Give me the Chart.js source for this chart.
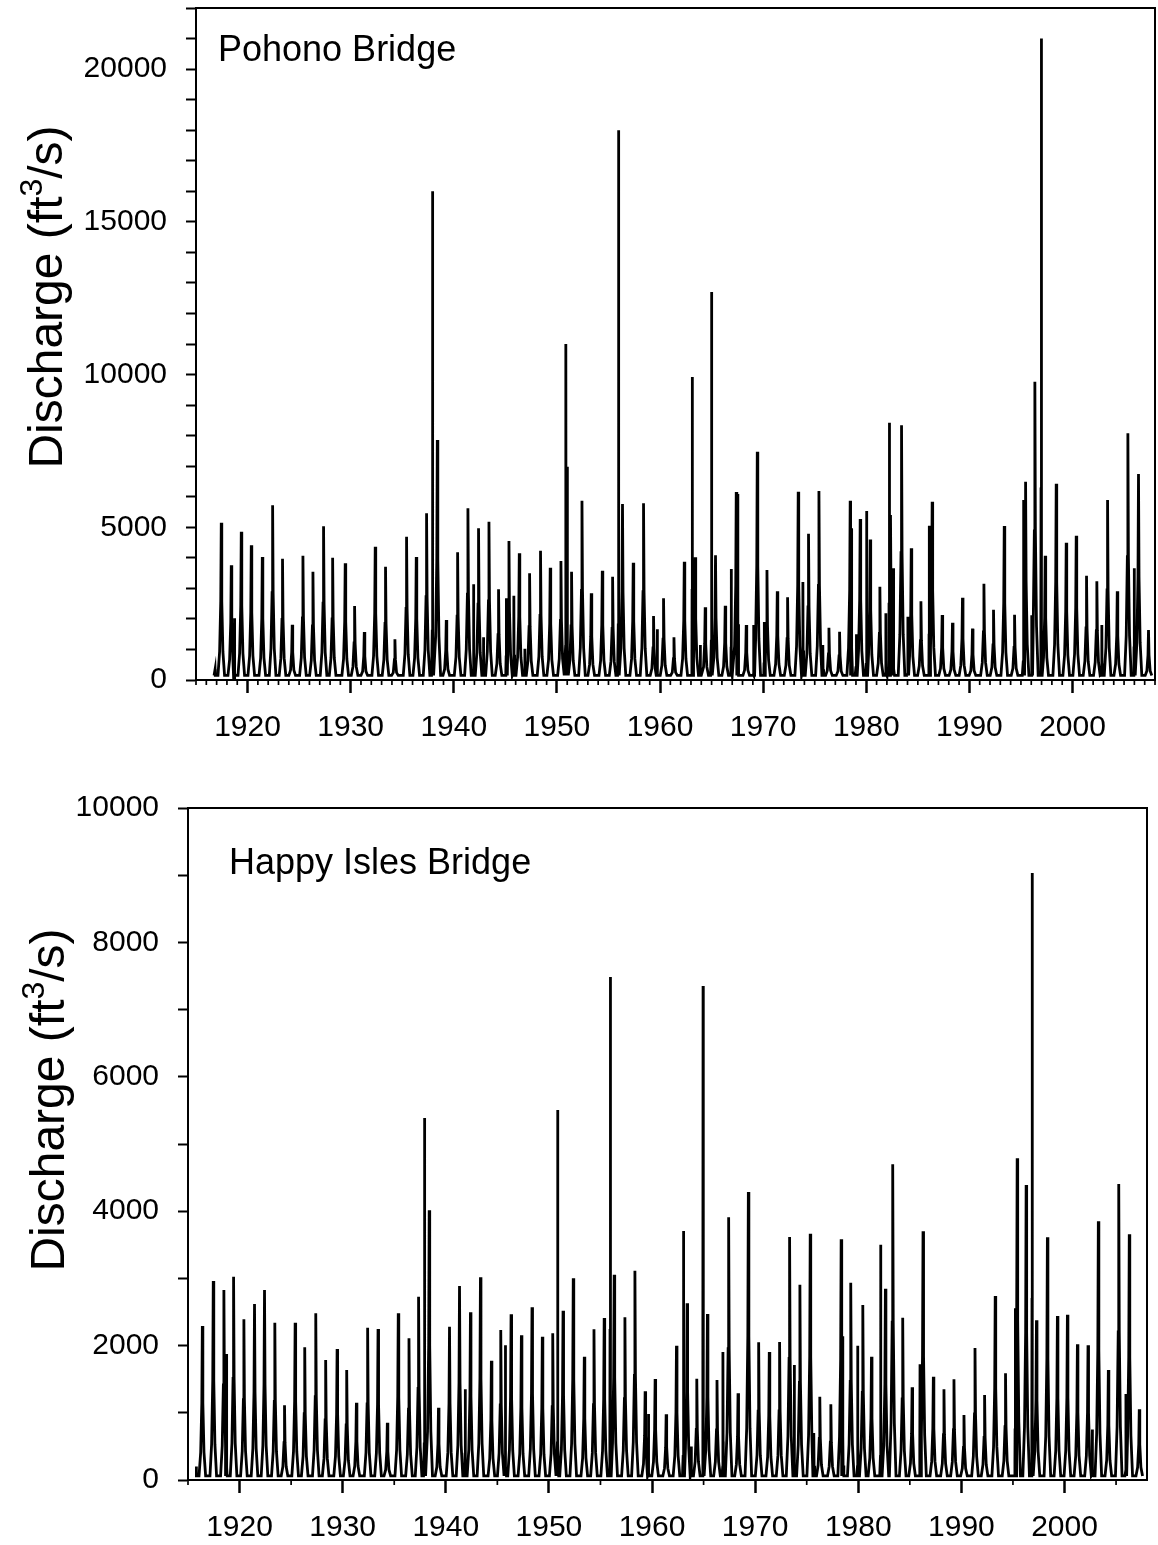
<!DOCTYPE html>
<html>
<head>
<meta charset="utf-8">
<title>Merced River discharge</title>
<script src="https://cdn.jsdelivr.net/npm/chart.js@4.4.1/dist/chart.umd.min.js"></script>
<style>
  body { margin: 0; background: #fff; }
  .panel { position: absolute; left: 0; width: 1158px; }
</style>
</head>
<body>
<div class="panel" style="top:0;height:760px"><canvas id="pohono"></canvas></div>
<div class="panel" style="top:760px;height:785px"><canvas id="happy"></canvas></div>

<script>
Chart.defaults.font.family = "'Liberation Sans', Arial, sans-serif";
Chart.defaults.color = '#000';

// Pohono Bridge - spring snowmelt peak of each year (decimal year, ft3/s)
var pohonoMeltDates = [1917.45, 1918.42, 1919.39, 1920.36, 1921.43, 1922.43, 1923.39, 1924.33, 1925.37, 1926.34,
  1927.37, 1928.25, 1929.47, 1930.38, 1931.32, 1932.38, 1933.38, 1934.29, 1935.42, 1936.36,
  1937.36, 1938.40, 1939.27, 1940.37, 1941.37, 1942.40, 1943.41, 1944.34, 1945.35, 1946.35,
  1947.35, 1948.41, 1949.35, 1950.39, 1951.42, 1952.43, 1953.33, 1954.40, 1955.40, 1956.36,
  1957.40, 1958.40, 1959.37, 1960.34, 1961.35, 1962.35, 1963.41, 1964.38, 1965.38, 1966.32,
  1967.39, 1968.36, 1969.43, 1970.37, 1971.37, 1972.37, 1973.40, 1974.40, 1975.41, 1976.38,
  1977.41, 1978.44, 1979.41, 1980.38, 1981.32, 1982.35, 1983.42, 1984.36, 1985.30, 1986.39,
  1987.36, 1988.36, 1989.33, 1990.30, 1991.41, 1992.34, 1993.38, 1994.38, 1995.45, 1996.35,
  1997.35, 1998.42, 1999.39, 2000.36, 2001.36, 2002.36, 2003.40, 2004.34, 2005.37, 2006.40,
  2007.37];
var pohonoMeltPeaks = [5150, 3755, 4856, 4410, 4027, 5718, 3972, 1812, 4070, 3547,
  5030, 4005, 3820, 2422, 1571, 4365, 3710, 1332, 4692, 4027,
  5457, 7857, 1964, 4180, 5620, 4966, 5184, 2968, 4551, 4147,
  3492, 4234, 3678, 3896, 3547, 5872, 2837, 3580, 3383, 5762,
  3842, 5784, 2095, 2674, 1397, 3874, 4016, 2379, 4081, 2434,
  6155, 1800, 7475, 3600, 2903, 2706, 6166, 4790, 6188, 1713,
  1582, 5872, 5270, 4600, 3055, 5400, 8336, 4310, 2576, 5839,
  2128, 1877, 2696, 1681, 3153, 2303, 5042, 2139, 6494, 9767,
  4070, 6428, 4496, 4725, 3416, 3230, 5893, 2903, 8075, 6744,
  1637];
// Pohono Bridge - rain floods and other short peaks
var pohonoFloodDates = [1916.85, 1918.74, 1937.94, 1941.92, 1942.88, 1945.09, 1945.83, 1946.90, 1950.87, 1951.00,
  1955.98, 1959.73, 1963.12, 1963.90, 1965.00, 1966.90, 1967.55, 1969.07, 1970.10, 1973.86,
  1975.80, 1978.57, 1979.02, 1980.03, 1981.90, 1982.22, 1982.64, 1984.04, 1986.10, 1995.25,
  1996.06, 1996.96, 2002.85, 2005.98];
var pohonoFloodPeaks = [350, 2020, 16000, 3131, 1397, 2674, 2761, 1026, 11000, 6985,
  18000, 1658, 9920, 1146, 12700, 3634, 6090, 1800, 1900, 3208,
  1146, 4966, 1495, 5533, 2183, 8423, 3656, 2074, 5053, 5893,
  2117, 21000, 1800, 3656];

// Happy Isles Bridge - spring snowmelt peak of each year
var happyMeltDates = [1916.39, 1917.45, 1918.48, 1919.42, 1920.42, 1921.45, 1922.42, 1923.42, 1924.36, 1925.39,
  1926.32, 1927.39, 1928.35, 1929.46, 1930.39, 1931.33, 1932.42, 1933.43, 1934.33, 1935.39,
  1936.43, 1937.36, 1938.39, 1939.29, 1940.36, 1941.33, 1942.39, 1943.36, 1944.42, 1945.33,
  1946.33, 1947.33, 1948.36, 1949.36, 1950.37, 1951.37, 1952.36, 1953.43, 1954.37, 1955.36,
  1956.33, 1957.37, 1958.34, 1959.33, 1960.30, 1961.37, 1962.37, 1963.40, 1964.34, 1965.37,
  1966.30, 1967.43, 1968.34, 1969.34, 1970.34, 1971.37, 1972.37, 1973.34, 1974.34, 1975.34,
  1976.27, 1977.34, 1978.34, 1979.27, 1980.44, 1981.28, 1982.63, 1983.34, 1984.31, 1985.22,
  1986.28, 1987.28, 1988.31, 1989.28, 1990.25, 1991.32, 1992.25, 1993.28, 1994.28, 1995.41,
  1996.28, 1997.28, 1998.34, 1999.31, 2000.28, 2001.25, 2002.28, 2003.28, 2004.25, 2005.26,
  2006.28, 2007.25];
var happyMeltPeaks = [2292, 2961, 2827, 3026, 2391, 2619, 2827, 2341, 1111, 2341,
  1974, 2480, 1786, 1949, 1637, 1150, 2267, 2247, 853, 2480,
  2108, 2728, 4013, 1076, 2282, 2887, 2495, 3016, 1776, 2232,
  2465, 2153, 2570, 2133, 2183, 2520, 3001, 1835, 2242, 2411,
  3055, 2421, 3115, 1320, 1503, 977, 1999, 2629, 1508, 2470,
  1488, 3909, 1290, 4286, 2049, 1905, 2054, 3616, 2907, 3665,
  1240, 1126, 3581, 2936, 2604, 1835, 2847, 4697, 2416, 1379,
  3700, 1538, 1349, 1498, 967, 1964, 1265, 2738, 1587, 4787,
  4390, 2376, 3611, 2440, 2460, 2019, 2004, 3849, 1637, 4405,
  3656, 1052];
// Happy Isles Bridge - rain floods and other short peaks
var happyFloodDates = [1915.80, 1918.74, 1937.94, 1941.88, 1945.78, 1950.85, 1955.94, 1959.66, 1963.05, 1963.80,
  1964.95, 1966.88, 1973.79, 1975.70, 1978.50, 1979.95, 1982.18, 1985.99, 1995.22, 1996.86,
  2002.70, 2005.96];
var happyFloodPeaks = [200, 1875, 5387, 1349, 2004, 5506, 7485, 982, 3705, 500,
  7351, 1905, 1711, 700, 2140, 1999, 3502, 1721, 2555, 9033,
  750, 1280];

// axis labels
var yearTicks = [1920, 1930, 1940, 1950, 1960, 1970, 1980, 1990, 2000];
var pohonoYLabels = [0, 5000, 10000, 15000, 20000];
var happyYLabels = [0, 2000, 4000, 6000, 8000, 10000];

// shape of one event: [base half width, low half width, low level, mid half width, mid level]
// widths in years, levels as a part of the peak
var meltShape = [0.32, 0.16, 0.18, 0.05, 0.5];
var floodShape = [0.1, 0.03, 0.1, 0.012, 0.3];

// turn the peak lists into a hydrograph line
function hydrograph(meltDates, meltPeaks, floodDates, floodPeaks, base) {
  var pts = [];
  function addEvent(t, v, s) {
    var low = Math.max(base, v * s[2]);
    var mid = Math.max(base, v * s[4]);
    pts.push({x: t - s[0], y: base});
    pts.push({x: t - s[1], y: low});
    pts.push({x: t - s[3], y: mid});
    pts.push({x: t, y: v});
    pts.push({x: t + s[3], y: mid});
    pts.push({x: t + s[1], y: low});
    pts.push({x: t + s[0], y: base});
  }
  for (var i = 0; i < meltDates.length; i++) addEvent(meltDates[i], meltPeaks[i], meltShape);
  for (var j = 0; j < floodDates.length; j++) addEvent(floodDates[j], floodPeaks[j], floodShape);
  pts.sort(function (a, b) { return a.x - b.x; });
  return pts;
}

// frame, minor year ticks, station name and y axis title
var panelDecor = {
  id: 'panelDecor',
  afterDraw: function (chart, args, o) {
    var ctx = chart.ctx, a = chart.chartArea, xs = chart.scales.x;
    ctx.save();
    ctx.strokeStyle = '#000';
    ctx.lineWidth = 2;
    ctx.beginPath();
    ctx.moveTo(a.left, a.top);
    ctx.lineTo(a.right, a.top);
    ctx.lineTo(a.right, a.bottom);
    ctx.stroke();

    ctx.lineWidth = 1.7;
    for (var yr = xs.min; yr <= xs.max; yr += o.minorStep) {
      if (yr % 10 === 0) continue;
      var px = xs.getPixelForValue(yr);
      ctx.beginPath();
      ctx.moveTo(px, a.bottom);
      ctx.lineTo(px, a.bottom + 5);
      ctx.stroke();
    }

    ctx.fillStyle = '#000';
    ctx.textAlign = 'left';
    ctx.textBaseline = 'alphabetic';
    ctx.font = "36px 'Liberation Sans', Arial, sans-serif";
    ctx.fillText(o.title, a.left + o.titleDx, a.top + o.titleDy);

    var big = "48px 'Liberation Sans', Arial, sans-serif";
    var small = "32px 'Liberation Sans', Arial, sans-serif";
    ctx.translate(o.labelX, o.labelY);
    ctx.rotate(-Math.PI / 2);
    ctx.font = big;
    var w1 = ctx.measureText('Discharge (ft').width;
    var w3 = ctx.measureText('/s)').width;
    ctx.font = small;
    var w2 = ctx.measureText('3').width;
    var sx = -(w1 + w2 + w3) / 2;
    ctx.font = big;
    ctx.fillText('Discharge (ft', sx, 0);
    sx += w1;
    ctx.font = small;
    ctx.fillText('3', sx, -20);
    sx += w2;
    ctx.font = big;
    ctx.fillText('/s)', sx, 0);
    ctx.restore();
  }
};

function makeChart(id, cfg) {
  return new Chart(document.getElementById(id), {
    type: 'line',
    data: {
      datasets: [{
        data: cfg.points,
        borderColor: '#000',
        borderWidth: 2.8,
        pointRadius: 0,
        tension: 0,
        fill: false
      }]
    },
    options: {
      animation: false,
      responsive: true,
      maintainAspectRatio: false,
      devicePixelRatio: 1,
      layout: { padding: cfg.padding },
      plugins: {
        legend: { display: false },
        tooltip: { enabled: false },
        panelDecor: cfg.decor
      },
      scales: {
        x: {
          type: 'linear',
          min: 1915,
          max: 2008,
          afterFit: function (s) {
            s.height = cfg.xAxisHeight;
            s.paddingLeft = 0;
            s.paddingRight = 0;
          },
          afterBuildTicks: function (s) { s.ticks = yearTicks.map(function (v) { return {value: v}; }); },
          grid: { drawOnChartArea: false, tickLength: 13, tickWidth: 2.5, tickColor: '#000' },
          border: { color: '#000', width: 2 },
          ticks: {
            font: { size: 30 }, padding: 17, maxRotation: 0, autoSkip: false,
            callback: function (v) { return String(v); }
          }
        },
        y: {
          min: 0,
          max: cfg.yMax,
          afterFit: function (s) {
            s.width = cfg.yAxisWidth;
            s.paddingTop = 0;
            s.paddingBottom = 0;
          },
          grid: { drawOnChartArea: false, tickLength: 10, tickWidth: 2, tickColor: '#000' },
          border: { color: '#000', width: 2 },
          ticks: {
            stepSize: 1000, font: { size: 30 }, padding: 19, autoSkip: false,
            callback: function (v) { return cfg.yLabels.indexOf(v) >= 0 ? String(v) : ''; }
          }
        }
      }
    },
    plugins: [panelDecor]
  });
}

makeChart('pohono', {
  points: hydrograph(pohonoMeltDates, pohonoMeltPeaks, pohonoFloodDates, pohonoFloodPeaks, 150),
  yMax: 22000,
  yLabels: pohonoYLabels,
  padding: { left: 0, right: 3, top: 8, bottom: 0 },
  yAxisWidth: 196,
  xAxisHeight: 80,
  decor: { title: 'Pohono Bridge', titleDx: 22, titleDy: 53, labelX: 62, labelY: 297, minorStep: 1 }
});

makeChart('happy', {
  points: hydrograph(happyMeltDates, happyMeltPeaks, happyFloodDates, happyFloodPeaks, 60),
  yMax: 10000,
  yLabels: happyYLabels,
  padding: { left: 0, right: 11, top: 48, bottom: 0 },
  yAxisWidth: 188,
  xAxisHeight: 65,
  decor: { title: 'Happy Isles Bridge', titleDx: 41, titleDy: 66, labelX: 64, labelY: 340, minorStep: 5 }
});
</script>
</body>
</html>
